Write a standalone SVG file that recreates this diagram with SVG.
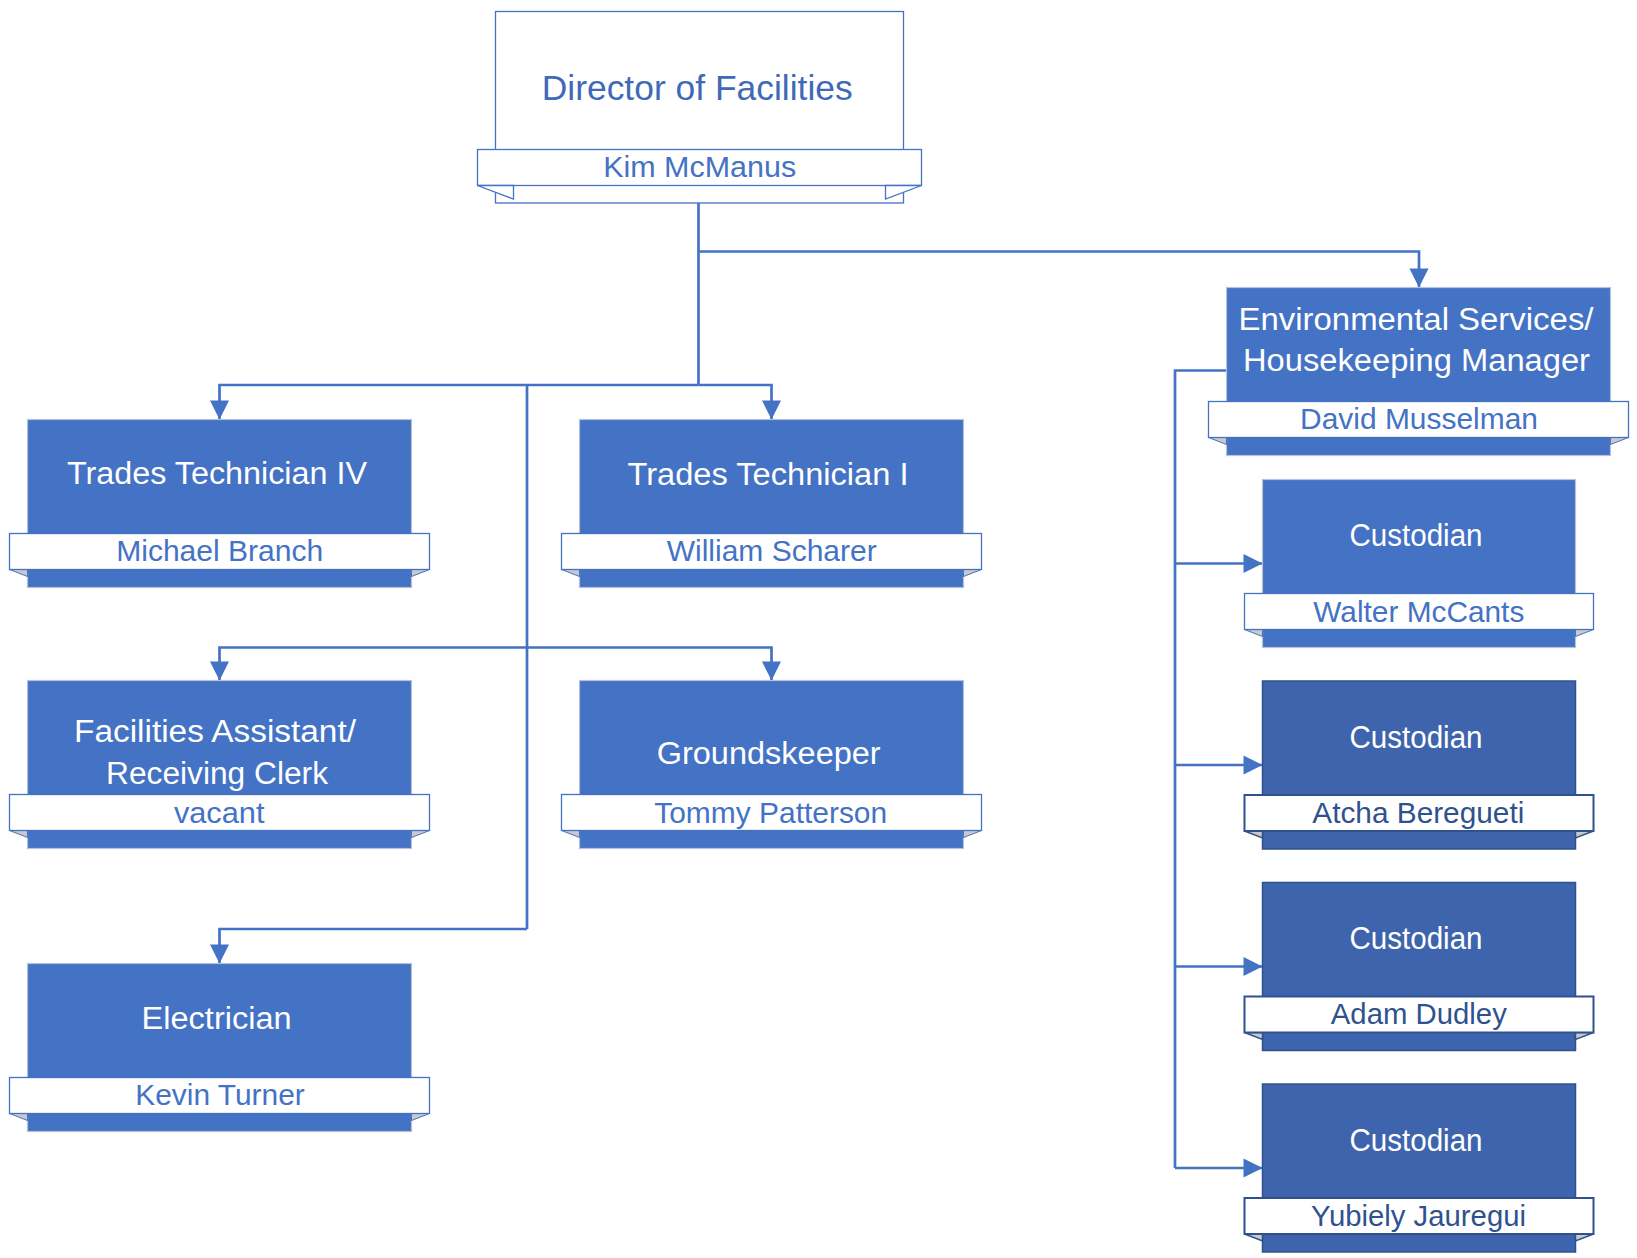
<svg xmlns="http://www.w3.org/2000/svg" width="1637" height="1258" viewBox="0 0 1637 1258">
<defs>
<style>
.bg{fill:#ffffff}
.box{fill:#4472C4;stroke:#B4C2DE;stroke-width:1.2}
.boxd{fill:#3E64AD;stroke:#2F528F;stroke-width:1.5}
.ban{fill:#ffffff;stroke:#4472C4;stroke-width:1.3}
.band{fill:#ffffff;stroke:#2F528F;stroke-width:2}
.tab{fill:#C9C9C9;stroke:#4472C4;stroke-width:1}
.tabd{fill:#C9C9C9;stroke:#2F528F;stroke-width:1.5}
.dir{fill:#ffffff;stroke:#4472C4;stroke-width:1.3}
.tabw{fill:#ffffff;stroke:#4472C4;stroke-width:1.3}
.t{font-family:"Liberation Sans",Arial,sans-serif;font-size:31px;fill:#ffffff;text-anchor:middle}
.n{font-family:"Liberation Sans",Arial,sans-serif;font-size:29px;fill:#4472C4;text-anchor:middle}
.nd{font-family:"Liberation Sans",Arial,sans-serif;font-size:29px;fill:#2F528F;text-anchor:middle}
.dt{font-family:"Liberation Sans",Arial,sans-serif;font-size:35px;fill:#3F6AB8;text-anchor:middle}
.ln{fill:none;stroke:#4472C4;stroke-width:2.7}
</style>
<marker id="arr" markerUnits="userSpaceOnUse" markerWidth="20" markerHeight="20" refX="19" refY="10" orient="auto" overflow="visible">
<path d="M0,0.5 L19,10 L0,19.5 Z" fill="#4472C4"/>
</marker>
</defs>
<rect class="bg" x="0" y="0" width="1637" height="1258"/>

<g id="connectors">
<path class="ln" d="M698.5,203 V385"/>
<path class="ln" d="M698.5,251.5 H1419 V287.5" marker-end="url(#arr)"/>
<path class="ln" d="M698.5,385 H219.5 V419.5" marker-end="url(#arr)"/>
<path class="ln" d="M698.5,385 H771.5 V419.5" marker-end="url(#arr)"/>
<path class="ln" d="M527,385 V929"/>
<path class="ln" d="M527,647.5 H219.5 V680.5" marker-end="url(#arr)"/>
<path class="ln" d="M527,647.5 H771.5 V680.5" marker-end="url(#arr)"/>
<path class="ln" d="M527,929 H219.5 V963.5" marker-end="url(#arr)"/>
<path class="ln" d="M1226.5,370.5 H1175 V1168"/>
<path class="ln" d="M1175,563.5 H1262.5" marker-end="url(#arr)"/>
<path class="ln" d="M1175,765 H1262.5" marker-end="url(#arr)"/>
<path class="ln" d="M1175,966.5 H1262.5" marker-end="url(#arr)"/>
<path class="ln" d="M1175,1168 H1262.5" marker-end="url(#arr)"/>
</g>

<g id="director">
<rect class="dir" x="495.5" y="11.5" width="408" height="191.5"/>
<rect class="ban" x="477.5" y="149.5" width="444" height="36"/>
<polygon class="tabw" points="477.5,185.5 513.5,199 513.5,185.5"/>
<polygon class="tabw" points="921.5,185.5 885.5,199 885.5,185.5"/>
<text class="dt" x="697.2" y="100" textLength="311" lengthAdjust="spacingAndGlyphs">Director of Facilities</text>
<text class="n" x="699.7" y="176.7" textLength="193" lengthAdjust="spacingAndGlyphs">Kim McManus</text>
</g>

<g id="trades-tech-iv">
<rect class="box" x="27.5" y="419.5" width="384" height="168"/>
<polygon class="tab" points="9.5,569.5 27.5,576.5 27.5,569.5"/>
<polygon class="tab" points="429.5,569.5 411.5,576.5 411.5,569.5"/>
<rect class="ban" x="9.5" y="533.5" width="420" height="36"/>
<text class="t" x="217" y="484" textLength="300" lengthAdjust="spacingAndGlyphs">Trades Technician IV</text>
<text class="n" x="219.7" y="561" textLength="207" lengthAdjust="spacingAndGlyphs">Michael Branch</text>
</g>

<g id="trades-tech-i">
<rect class="box" x="579.5" y="419.5" width="384" height="168"/>
<polygon class="tab" points="561.5,569.5 579.5,576.5 579.5,569.5"/>
<polygon class="tab" points="981.5,569.5 963.5,576.5 963.5,569.5"/>
<rect class="ban" x="561.5" y="533.5" width="420" height="36"/>
<text class="t" x="768" y="485" textLength="281" lengthAdjust="spacingAndGlyphs">Trades Technician I</text>
<text class="n" x="771.7" y="561" textLength="210" lengthAdjust="spacingAndGlyphs">William Scharer</text>
</g>

<g id="facilities-assistant">
<rect class="box" x="27.5" y="680.5" width="384" height="168"/>
<polygon class="tab" points="9.5,830.5 27.5,837.5 27.5,830.5"/>
<polygon class="tab" points="429.5,830.5 411.5,837.5 411.5,830.5"/>
<rect class="ban" x="9.5" y="794.5" width="420" height="36"/>
<text class="t" x="215" y="742" textLength="282" lengthAdjust="spacingAndGlyphs">Facilities Assistant/</text>
<text class="t" x="217" y="784.3" textLength="222" lengthAdjust="spacingAndGlyphs">Receiving Clerk</text>
<text class="n" x="219.2" y="822.5" textLength="90.6" lengthAdjust="spacingAndGlyphs">vacant</text>
</g>

<g id="groundskeeper">
<rect class="box" x="579.5" y="680.5" width="384" height="168"/>
<polygon class="tab" points="561.5,830.5 579.5,837.5 579.5,830.5"/>
<polygon class="tab" points="981.5,830.5 963.5,837.5 963.5,830.5"/>
<rect class="ban" x="561.5" y="794.5" width="420" height="36"/>
<text class="t" x="768.7" y="764" textLength="224" lengthAdjust="spacingAndGlyphs">Groundskeeper</text>
<text class="n" x="770.7" y="822.5" textLength="233" lengthAdjust="spacingAndGlyphs">Tommy Patterson</text>
</g>

<g id="electrician">
<rect class="box" x="27.5" y="963.5" width="384" height="168"/>
<polygon class="tab" points="9.5,1113.5 27.5,1120.5 27.5,1113.5"/>
<polygon class="tab" points="429.5,1113.5 411.5,1120.5 411.5,1113.5"/>
<rect class="ban" x="9.5" y="1077.5" width="420" height="36"/>
<text class="t" x="216.6" y="1029" textLength="150" lengthAdjust="spacingAndGlyphs">Electrician</text>
<text class="n" x="220" y="1105" textLength="169.5" lengthAdjust="spacingAndGlyphs">Kevin Turner</text>
</g>

<g id="env-services-manager">
<rect class="box" x="1226.5" y="287.5" width="384" height="168"/>
<polygon class="tab" points="1208.5,437.5 1226.5,444.5 1226.5,437.5"/>
<polygon class="tab" points="1628.5,437.5 1610.5,444.5 1610.5,437.5"/>
<rect class="ban" x="1208.5" y="401.5" width="420" height="36"/>
<text class="t" x="1416" y="329.5" textLength="355" lengthAdjust="spacingAndGlyphs">Environmental Services/</text>
<text class="t" x="1416.5" y="370.5" textLength="347" lengthAdjust="spacingAndGlyphs">Housekeeping Manager</text>
<text class="n" x="1419" y="428.5" textLength="238" lengthAdjust="spacingAndGlyphs">David Musselman</text>
</g>

<g id="custodian-1">
<rect class="box" x="1262.5" y="479.5" width="313" height="168"/>
<polygon class="tab" points="1244.5,629.5 1262.5,636.5 1262.5,629.5"/>
<polygon class="tab" points="1593.5,629.5 1575.5,636.5 1575.5,629.5"/>
<rect class="ban" x="1244.5" y="593.5" width="349" height="36"/>
<text class="t" x="1416" y="546.2" textLength="133" lengthAdjust="spacingAndGlyphs">Custodian</text>
<text class="n" x="1418.8" y="621.5" textLength="211" lengthAdjust="spacingAndGlyphs">Walter McCants</text>
</g>

<g id="custodian-2">
<rect class="boxd" x="1262.5" y="681" width="313" height="168"/>
<polygon class="tabd" points="1244.5,831 1262.5,838 1262.5,831"/>
<polygon class="tabd" points="1593.5,831 1575.5,838 1575.5,831"/>
<rect class="band" x="1244.5" y="795" width="349" height="36"/>
<text class="t" x="1416" y="747.7" textLength="133" lengthAdjust="spacingAndGlyphs">Custodian</text>
<text class="nd" x="1418.3" y="823.3" textLength="212" lengthAdjust="spacingAndGlyphs">Atcha Beregueti</text>
</g>

<g id="custodian-3">
<rect class="boxd" x="1262.5" y="882.5" width="313" height="168"/>
<polygon class="tabd" points="1244.5,1032.5 1262.5,1039.5 1262.5,1032.5"/>
<polygon class="tabd" points="1593.5,1032.5 1575.5,1039.5 1575.5,1032.5"/>
<rect class="band" x="1244.5" y="996.5" width="349" height="36"/>
<text class="t" x="1416" y="949.2" textLength="133" lengthAdjust="spacingAndGlyphs">Custodian</text>
<text class="nd" x="1418.8" y="1024" textLength="176" lengthAdjust="spacingAndGlyphs">Adam Dudley</text>
</g>

<g id="custodian-4">
<rect class="boxd" x="1262.5" y="1084" width="313" height="168"/>
<polygon class="tabd" points="1244.5,1234 1262.5,1241 1262.5,1234"/>
<polygon class="tabd" points="1593.5,1234 1575.5,1241 1575.5,1234"/>
<rect class="band" x="1244.5" y="1198" width="349" height="36"/>
<text class="t" x="1416" y="1150.7" textLength="133" lengthAdjust="spacingAndGlyphs">Custodian</text>
<text class="nd" x="1418.5" y="1225.5" textLength="215" lengthAdjust="spacingAndGlyphs">Yubiely Jauregui</text>
</g>
</svg>
